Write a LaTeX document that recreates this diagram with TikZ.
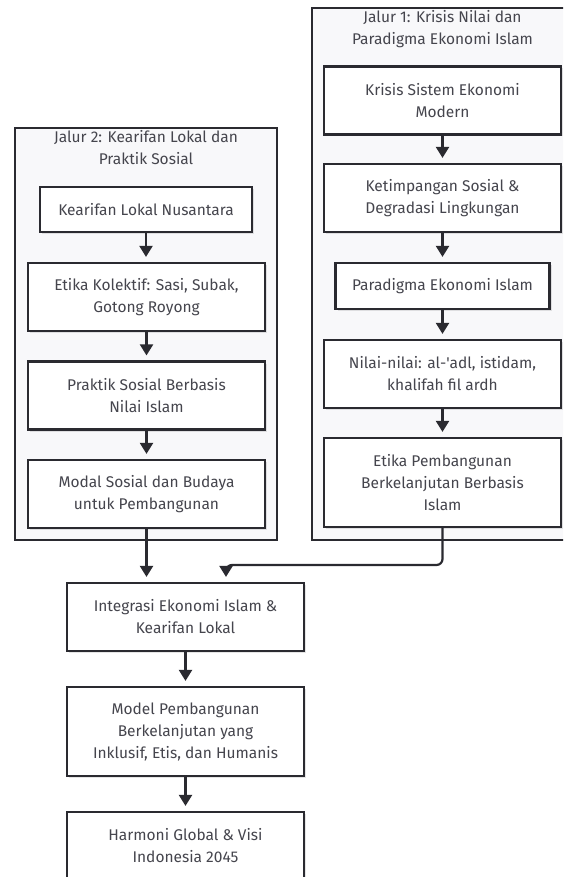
\documentclass[tikz,border=0pt]{standalone}
\usepackage{fontspec}
\setmainfont{Fira Sans}
\usetikzlibrary{arrows.meta,shadows}
\definecolor{edge}{HTML}{2A2A30}
\definecolor{lane}{HTML}{F8F8FA}
\definecolor{ink}{HTML}{45454D}
\begin{document}
\begin{tikzpicture}[x=1pt,y=-1pt,
	lanebox/.style={draw=edge,line width=2.2pt,fill=lane,inner sep=0pt},
	lanetitle/.style={anchor=north,align=center,text=ink,inner sep=0pt,font=\fontsize{15.5}{22}\selectfont},
	stepbox/.style={draw=edge,line width=2.2pt,fill=white,align=center,inner sep=0pt,text=ink,
		font=\fontsize{15.5}{22}\selectfont,
		drop shadow={shadow xshift=2pt,shadow yshift=-2pt,opacity=0.10,fill=black}},
	wide/.style={minimum width=237pt,minimum height=68pt},
	tall/.style={minimum width=237pt,minimum height=89pt},
	link/.style={draw=edge,line width=2.2pt,-{Triangle[length=11pt,width=13pt]},shorten >=5pt}]
	\clip (0,0) rectangle (563,877);
	\fill[white] (0,0) rectangle (563,877);
	% lanes
	\node[lanebox,minimum width=261pt,minimum height=532pt] (lane1) at (442.5,274) {};
	\node[lanetitle] (title1) at ([yshift=-3pt]lane1.north) {Jalur 1: Krisis Nilai dan\\Paradigma Ekonomi Islam};
	\node[lanebox,minimum width=262pt,minimum height=412pt] (lane2) at (146,334) {};
	\node[lanetitle] (title2) at ([yshift=-3pt]lane2.north) {Jalur 2: Kearifan Lokal dan\\Praktik Sosial};
	% jalur 2
	\node[stepbox,minimum width=212pt,minimum height=45pt] (kln) at (146,209.5) {Kearifan Lokal Nusantara};
	\node[stepbox,wide] (etk) at (146.5,297) {Etika Kolektif: Sasi, Subak,\\Gotong Royong};
	\node[stepbox,wide] (prk) at (146.5,395.5) {Praktik Sosial Berbasis\\Nilai Islam};
	\node[stepbox,wide] (mdl) at (146.5,494) {Modal Sosial dan Budaya\\untuk Pembangunan};
	% jalur 1
	\node[stepbox,wide] (kss) at (442.5,100.5) {Krisis Sistem Ekonomi\\Modern};
	\node[stepbox,wide] (ktp) at (442.5,198) {Ketimpangan Sosial \&\\Degradasi Lingkungan};
	\node[stepbox,minimum width=214pt,minimum height=46pt] (pei) at (442.5,286) {Paradigma Ekonomi Islam};
	\node[stepbox,wide] (nil) at (442.5,374) {Nilai-nilai: al-\textquotesingle adl, istidam,\\khalifah fil ardh};
	\node[stepbox,tall] (etp) at (442.5,482.5) {Etika Pembangunan\\Berkelanjutan Berbasis\\Islam};
	% hasil
	\node[stepbox,wide] (itg) at (185.5,617) {Integrasi Ekonomi Islam \&\\Kearifan Lokal};
	\node[stepbox,tall] (mdp) at (185.5,731.5) {Model Pembangunan\\Berkelanjutan yang\\Inklusif, Etis, dan Humanis};
	\node[stepbox,wide] (hrm) at (185.5,846) {Harmoni Global \& Visi\\Indonesia 2045};
	\coordinate (bend) at (226,565);
	% arrows
	\draw[link] (kln.south) -- (kln.south |- etk.north);
	\draw[link] (etk.south) -- (etk.south |- prk.north);
	\draw[link] (prk.south) -- (prk.south |- mdl.north);
	\draw[link] (kss.south) -- (kss.south |- ktp.north);
	\draw[link] (ktp.south) -- (ktp.south |- pei.north);
	\draw[link] (pei.south) -- (pei.south |- nil.north);
	\draw[link] (nil.south) -- (nil.south |- etp.north);
	\draw[link] (mdl.south) -- (mdl.south |- itg.north);
	\draw[link,rounded corners=6pt] (etp.south) |- (bend) -- (bend |- itg.north);
	\draw[link] (itg.south) -- (itg.south |- mdp.north);
	\draw[link] (mdp.south) -- (mdp.south |- hrm.north);
\end{tikzpicture}
\end{document}
